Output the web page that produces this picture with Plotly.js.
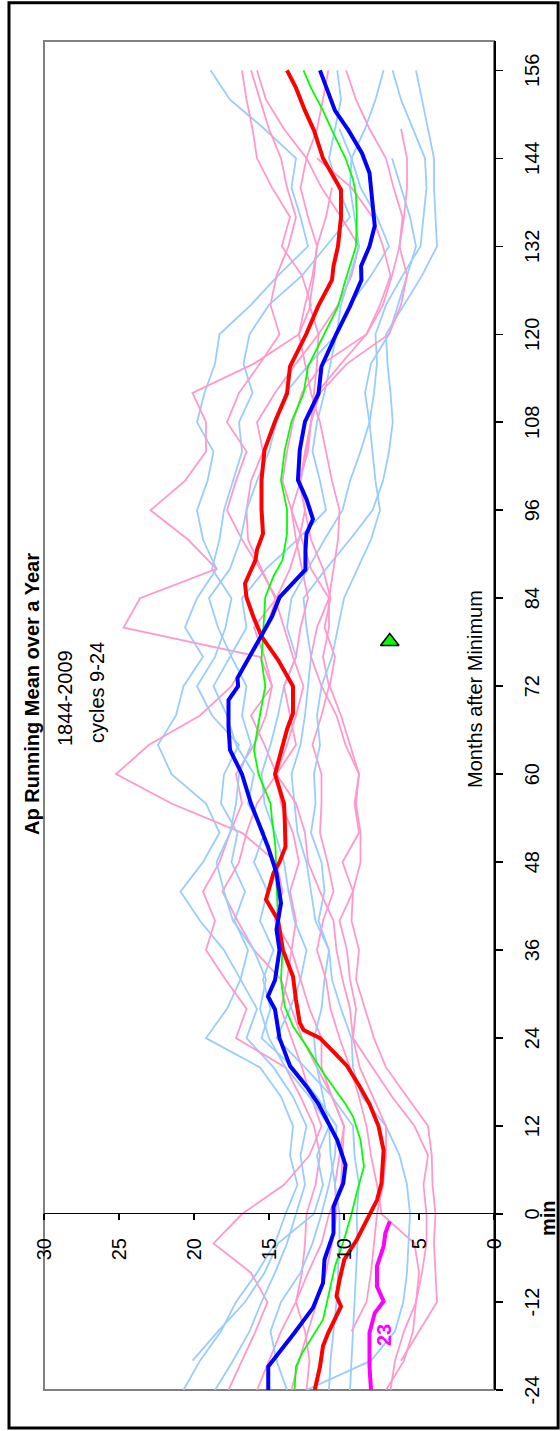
<!DOCTYPE html>
<html><head><meta charset="utf-8">
<script src="https://cdn.plot.ly/plotly-3.0.1.min.js"></script>
<style>
html,body{margin:0;padding:0;width:560px;height:1431px;overflow:hidden;background:#fff;}
#wrap{position:absolute;left:0;top:0;width:1431px;height:560px;transform-origin:0 0;transform:translate(0px,1431px) rotate(-90deg);}
#chart{width:1431px;height:560px;}
</style></head><body>
<div id="wrap"><div id="chart"></div></div>
<script>
// Months after minimum (thin cycle lines sampled every 4 months)
const months4 = [-24,-20,-16,-12,-8,-4,0,4,8,12,16,20,24,28,32,36,40,44,48,52,56,60,64,68,72,76,80,84,88,92,96,100,104,108,112,116,120,124,128,132,136,140,144,148,152,156];

// light blue cycles
const cycB1 = [20.7,19.6,18.2,17.2,15.8,14.6,13.9,13.1,13.6,13.4,14.2,15.6,19.2,17.8,16.9,18.0,19.6,20.9,19.4,18.3,19.2,21.5,22.4,21.2,20.7,19.4,20.6,19.8,18.5,19.4,19.8,19.1,18.7,19.8,19.3,18.6,18.3,16.2,14.4,12.4,12.9,13.5,13.2,15.3,17.6,18.9];
const cycB2 = [18.6,17.4,16.3,15.5,14.6,13.8,13.2,12.6,12.9,12.5,13.4,14.7,16.5,15.8,16.9,16.4,17.3,16.6,17.5,17.1,18.2,18.0,17.0,18.8,19.8,18.6,17.9,17.5,18.8,18.3,18.0,17.4,16.8,17.0,16.1,16.7,16.3,15.0,12.8,11.2,9.6,10.4,11.0,10.6,10.2,10.45];
const cycB3 = [13.8,14.5,14.9,14.2,12.9,12.1,11.5,11.0,10.6,10.5,11.8,13.4,15.5,14.9,15.4,14.7,15.6,15.1,16.0,15.3,16.4,16.0,17.2,17.8,18.7,17.6,16.5,16.8,15.2,13.1,11.2,11.6,12.1,11.8,11.3,10.9,10.5,9.6,8.2,7.0,7.8,8.9,9.5,8.6,7.9,7.36];
const cycB4 = [9.6,9.5,9.4,9.3,9.2,9.1,9.15,9.0,9.3,9.4,10.8,12.6,14.5,13.6,12.9,12.5,13.3,13.7,14.0,14.6,15.3,15.5,14.9,14.4,14.0,13.2,13.8,13.5,12.4,11.3,10.1,9.6,8.9,8.3,8.0,7.8,7.9,7.2,6.1,4.9,4.7,4.5,4.6,5.4,6.2,6.76];
const cycB5 = [11.0,10.9,10.7,10.5,10.4,10.3,10.3,10.6,10.9,11.0,11.4,11.8,12.0,11.5,11.3,11.0,11.9,12.2,12.5,13.1,13.3,13.5,12.9,12.6,12.4,12.2,12.5,12.7,11.2,9.6,8.1,7.4,7.0,6.75,6.9,7.1,7.2,6.0,4.8,3.8,3.9,4.0,4.0,4.4,4.8,5.2];
const cycB6 = [12.5,8.2,6.6,6.05,5.8,5.7,5.6,5.8,6.3,7.2,8.8,9.4,9.5,10.2,10.8,11.0,11.7,11.3,11.5,12.2,11.9,12.0,11.6,11.8,11.5,10.8,10.4,10.0,9.1,8.2,7.6,7.9,8.1,8.3,8.6,8.2,7.0,6.4,5.8,5.2,5.6,6.2,6.8,null,null,null];
const cycB7 = [null,20.1,18.4,16.6,15.3,14.4,12.0,11.4,11.8,11.0,12.3,13.9,15.0,15.6,15.2,16.0,17.4,18.0,18.5,17.6,17.2,17.0,16.2,16.8,16.5,17.5,18.4,19.0,17.6,16.9,16.5,15.8,15.0,14.5,13.9,12.3,10.5,10.2,9.6,9.0,9.3,9.6,9.5,10.3,null,null];

// pink cycles
const cycP1 = [17.7,16.8,15.9,15.1,16.2,18.7,16.8,14.0,12.3,11.5,12.2,12.8,13.5,14.2,13.8,13.5,14.6,14.1,14.5,16.8,21.5,25.2,23.0,19.6,17.5,16.4,15.2,14.5,13.6,13.0,12.6,12.9,12.5,12.2,12.0,11.8,11.7,12.3,12.0,11.8,12.4,12.9,12.5,11.8,11.4,11.05];
const cycP2 = [15.8,15.0,14.2,13.2,12.8,12.6,12.5,11.9,11.6,12.0,12.9,13.9,17.2,16.5,17.9,19.2,18.6,19.4,18.3,17.6,16.8,17.2,16.0,15.2,14.8,15.6,24.7,23.6,18.5,20.4,22.9,20.6,19.2,19.2,20.1,16.0,13.0,12.2,12.8,14.15,13.6,14.8,15.8,16.1,16.5,16.8];
const cycP3 = [13.5,13.0,12.4,11.8,11.2,10.8,10.5,10.6,10.3,10.0,10.8,11.8,12.8,13.5,14.2,16.0,17.1,18.1,17.0,16.5,15.8,14.5,15.3,16.2,14.8,15.3,16.0,14.5,15.6,16.8,17.8,17.2,16.5,17.8,17.0,15.6,14.3,14.9,14.5,13.7,13.2,13.8,14.2,15.0,15.6,16.2];
const cycP4 = [12.5,12.3,12.6,13.2,12.4,11.5,11.0,10.2,10.1,10.0,10.8,11.5,11.5,12.3,12.9,13.5,13.2,13.6,13.0,13.4,14.2,14.5,13.8,13.2,12.7,13.4,14.0,14.6,15.5,16.4,16.5,16.2,15.4,15.8,14.6,13.2,11.7,10.4,9.5,9.0,10.2,11.5,12.5,14.0,15.2,15.8];
const cycP5 = [6.9,6.6,6.0,5.2,5.0,5.3,7.5,7.8,8.2,8.5,9.0,9.6,10.3,10.9,11.2,11.8,11.4,10.7,11.1,11.6,11.5,11.5,12.1,11.5,11.0,11.4,11.0,11.0,12.2,12.8,13.5,12.9,12.6,12.2,11.8,10.2,8.5,7.4,6.8,6.3,6.1,6.7,7.2,8.3,9.2,9.86];
const cycP6 = [null,null,9.5,8.5,8.2,8.0,7.8,7.4,7.2,7.2,8.1,8.95,9.4,9.2,9.6,9.8,10.3,9.4,10.1,9.0,9.3,9.0,9.6,10.2,10.95,10.6,11.3,10.9,11.4,12.2,12.6,13.0,12.4,12.2,11.6,9.8,7.0,6.2,5.8,6.3,6.0,5.8,5.8,6.2,null,null];
const cycP7 = [null,6.2,5.0,3.8,3.9,4.0,3.9,4.1,4.15,4.4,5.8,7.2,8.0,8.6,9.2,9.0,9.5,9.4,8.9,8.9,9.2,9.0,9.9,10.5,11.5,12.2,11.8,11.0,10.7,10.4,10.3,10.8,11.2,11.6,12.2,12.6,13.0,12.6,12.1,11.8,11.2,10.8,null,null,null,null];
const cycP8 = [7.2,6.0,5.4,5.2,4.8,4.5,4.5,4.7,4.4,5.3,6.8,8.1,9.4,9.6,10.1,10.5,10.7,11.6,12.4,12.6,13.2,14.5,13.2,13.6,14.0,13.2,12.9,12.4,12.8,13.2,13.5,14.1,13.8,13.4,12.8,11.4,8.5,7.6,6.9,7.4,8.1,9.5,11.8,null,null,null];

// averages (thick)
const redMonths = [-24,-20.8,-18,-16.2,-12.6,-11.2,-9,-6.2,-3.5,0,1.9,4.2,8.7,12,15,17.4,20.2,21.9,24,25.1,26.1,29.2,32.4,36,40.1,42.9,46.5,48,50.1,53.8,56,60,63.3,66.1,68.3,72,75.6,78.8,81.5,84.1,86,89.2,90.6,92.8,96.1,100.1,104.2,108.1,111.9,115.6,120.1,123.8,127.4,129.3,132,136,139.7,141.1,144,147.8,150.5,153.6,156];
const redAp = [11.95,11.6,11.4,11.05,10.2,10.5,10.3,9.98,9.15,8.3,7.8,7.5,7.36,7.7,8.3,8.95,9.8,10.6,11.6,12.7,12.95,13.2,13.4,14.07,14.4,15.2,14.7,14.3,13.9,13.95,14.0,14.6,14.2,13.8,13.4,13.4,14.4,15.5,16.05,16.5,16.6,15.9,15.8,15.4,15.5,15.5,15.3,14.6,13.8,13.6,12.5,11.73,10.8,10.7,10.4,10.2,10.2,10.6,11.4,12.0,12.6,13.2,13.8];

const blueMonths = [-24,-20.8,-16.2,-12.8,-9.4,-6.2,-2.6,1.0,4.2,6.7,10.1,12.9,15,17.4,20.2,24,27.9,29.7,31.9,36,38.8,42.4,46.5,50.1,52.4,53.8,56,60,63.3,66.5,70.1,72,73.1,76,78.8,81.5,84.1,86,87.9,90.6,92.8,94.8,97.5,100.1,104.2,108.1,111.9,115.6,120.1,123.8,127.4,129.3,132,134.8,138.4,142,144.7,147.8,150.5,153.6,156];
const blueAp = [15.05,15.05,13.3,12.07,11.4,11.3,10.7,10.7,10.05,9.9,10.45,11.2,11.7,12.5,13.6,14.3,14.6,15.07,14.6,14.3,14.5,14.2,14.5,15.07,15.5,15.8,16.2,16.8,17.6,17.7,17.7,17.06,17.1,16.3,15.5,14.8,14.3,13.4,12.57,12.57,12.5,12.07,12.5,13.07,12.95,12.6,11.7,11.5,10.5,9.6,8.84,8.86,8.3,7.95,8.1,8.3,8.8,9.7,10.6,11.2,11.6];

const greenMonths = [-24,-20.8,-19,-14.4,-11.7,-7.1,-3.5,0,2.9,6.5,10.1,13.3,15,19.3,22.9,25.6,28.3,31.9,36,40.1,45.2,50.1,53.8,56,60,63.3,68.1,72,75.6,78.8,84.1,87,89.2,92.8,96.1,100.1,104.2,108.1,111.9,115.6,120.1,123.8,127.4,132,136,139,141.1,144,147.8,150.5,153.6,156];
const greenAp = [13.3,13.2,12.8,11.4,11.1,10.6,10.0,9.5,9.15,8.67,8.9,9.4,9.9,11.4,12.5,13.4,13.95,14.2,14.1,14.4,14.5,14.57,14.8,14.9,15.7,16.0,15.6,15.25,15.5,15.4,15.25,14.7,14.1,13.8,13.8,14.2,13.95,13.5,12.7,12.4,11.3,10.4,9.9,9.2,9.15,9.2,9.4,9.9,10.8,11.4,12.2,12.7];

// cycle 23 (magenta)
const c23Months = [-24,-20.8,-16.2,-13.5,-11.9,-9.9,-7.1,-4.4,-2.6,-1.0];
const c23Ap = [8.2,8.3,8.3,7.95,7.36,7.8,7.8,7.36,7.24,6.95];

// marker
const triMonth = [78.1];
const triAp = [6.95];

const xTickVals = [-24,-12,0,12,24,36,48,60,72,84,96,108,120,132,144,156];
const xTickText = ["-24","-12","0","12","24","36","48","60","72","84","96","108","120","132","144","156"];
const yTickVals = [0,5,10,15,20,25,30];
const yTickText = ["0","5","10","15","20","25","30"];

const LB = '#99CCFF', PK = '#FF99CC';
const thin = [
  [cycB1,LB],[cycP1,PK],[cycB2,LB],[cycP2,PK],[cycB3,LB],[cycP3,PK],[cycB4,LB],[cycP4,PK],
  [cycB5,LB],[cycP5,PK],[cycB6,LB],[cycP6,PK],[cycB7,LB],[cycP7,PK],[cycP8,PK]
];
const traces = thin.map(([ys,c]) => ({
  type:'scatter', mode:'lines', x:months4, y:ys, line:{color:c,width:1.8}, connectgaps:false, hoverinfo:'skip'
}));
traces.push({type:'scatter',mode:'lines',x:c23Months,y:c23Ap,line:{color:'#FF00FF',width:4}});
traces.push({type:'scatter',mode:'lines',x:greenMonths,y:greenAp,line:{color:'#00FF00',width:1.8}});
traces.push({type:'scatter',mode:'lines',x:redMonths,y:redAp,line:{color:'#FF0000',width:4}});
traces.push({type:'scatter',mode:'lines',x:blueMonths,y:blueAp,line:{color:'#0000FF',width:4}});
traces.push({type:'scatter',mode:'markers',x:triMonth,y:triAp,marker:{symbol:'triangle-right',size:16,color:'#00FF00',line:{color:'#000',width:1.5}}});

const FONT = 'Liberation Sans, Arial, sans-serif';
const layout = {
  width:1431, height:560,
  margin:{l:41,r:41,t:44,b:66,pad:0},
  paper_bgcolor:'#ffffff', plot_bgcolor:'#ffffff',
  showlegend:false,
  font:{family:FONT,size:20,color:'#000'},
  xaxis:{range:[-24,160], tickmode:'array', tickvals:xTickVals, ticktext:xTickText,
    showgrid:false, zeroline:false, showline:true, linecolor:'#000', linewidth:1.5,
    ticks:'outside', ticklen:7, tickwidth:1.5, tickcolor:'#000', ticklabelstandoff:12,
    tickfont:{family:FONT,size:20,color:'#000'}},
  yaxis:{range:[0,30], tickmode:'array', tickvals:yTickVals, ticktext:yTickText,
    anchor:'free', position:24/184,
    showgrid:false, zeroline:false, showline:true, linecolor:'#000', linewidth:1.5,
    ticks:'outside', ticklen:6, tickwidth:1.5, tickcolor:'#000', ticklabelstandoff:14,
    tickfont:{family:FONT,size:20,color:'#000'}},
  shapes:[
    {type:'rect',xref:'paper',yref:'paper',x0:0,x1:1,y0:0,y1:1,line:{color:'#808080',width:2},layer:'below'},
    {type:'rect',xref:'paper',yref:'paper',x0:-0.0282,x1:1.0284,y0:-0.1425,y1:1.0778,line:{color:'#000',width:3},layer:'below'}
  ],
  annotations:[
    {text:'<b>Ap Running Mean over a Year</b>',xref:'paper',yref:'paper',x:0.516,y:1.027,showarrow:false,xanchor:'center',yanchor:'middle',font:{family:FONT,size:20,color:'#000'}},
    {text:'1844-2009',xref:'paper',yref:'paper',x:0.513,y:0.953,showarrow:false,xanchor:'center',yanchor:'middle',font:{family:FONT,size:20,color:'#000'}},
    {text:'cycles 9-24',xref:'paper',yref:'paper',x:0.517,y:0.883,showarrow:false,xanchor:'center',yanchor:'middle',font:{family:FONT,size:20,color:'#000'}},
    {text:'Months after Minimum',xref:'paper',yref:'paper',x:0.52,y:0.042,showarrow:false,xanchor:'center',yanchor:'middle',font:{family:FONT,size:20,color:'#000'}},
    {text:'<b>min</b>',xref:'x',yref:'paper',x:-0.5,y:-0.12,showarrow:false,xanchor:'center',yanchor:'middle',font:{family:FONT,size:20,color:'#000'}},
    {text:'<b>23</b>',xref:'x',yref:'y',x:-16.5,y:7.35,showarrow:false,xanchor:'center',yanchor:'middle',font:{family:FONT,size:20,color:'#FF00FF'}}
  ]
};
Plotly.newPlot('chart', traces, layout, {staticPlot:true, displayModeBar:false});
</script>
</body></html>
